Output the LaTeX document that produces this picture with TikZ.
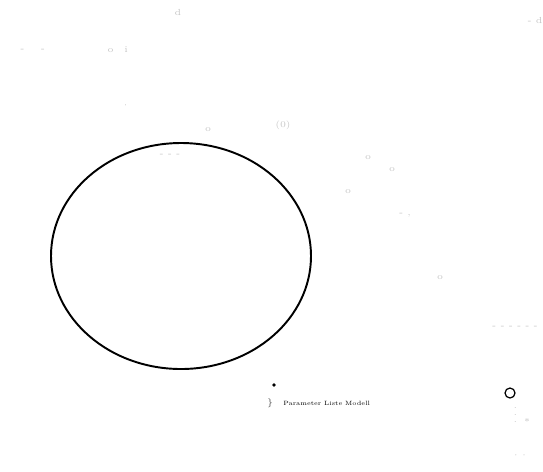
\documentclass[tikz,border=0pt]{standalone}
\begin{document}
\begin{tikzpicture}[x=0.02cm,y=-0.02cm,
    faint/.style={gray!45, font=\tiny, inner sep=0pt}]
        % Cornice
        \useasboundingbox (0,0) rectangle (543,471);
        % Ellisse
        \draw[line width=1.1pt] (181,256) ellipse (130 and 113);
        % Segni sparsi
        \node[faint] (s1) at (178,12) {d};
        \node[faint] (s2) at (535,20) {- d};
        \node[faint] (s3) at (30,50) {\, - \; \, -};
        \node[faint] (s4) at (115,50) {\, o \; i};
        \node[faint] (s5) at (125,105) {\,$\cdot$};
        \node[faint] (s6) at (208,130) {o};
        \node[faint] (s7) at (283,125) {(0)};
        \node[faint] (s8) at (170,155) {- - -};
        \node[faint] (s9) at (368,158) {o};
        \node[faint] (s10) at (392,170) {o};
        \node[faint] (s11) at (348,192) {o};
        \node[faint] (s12) at (405,215) {- ,};
        \node[faint] (s13) at (440,278) {o};
        \node[faint] (s14) at (515,327) {- - - - - -};
        % Legenda
        \fill (274,385) circle (1.8);
        \node[faint, black!70] (br) at (270,403) {$\}$};
        \node[font=\fontsize{3.5}{4}\selectfont, inner sep=0pt, anchor=west] (leg) at (283,403) {Parameter Liste Modell};
        \draw[line width=0.7pt] (510,393) circle (5);
        \node[faint] (s15) at (522,410) {$\vdots$ \;$\ast$};
        \node[faint] (s16) at (520,455) {$\cdot$ $\cdot$};
\end{tikzpicture}
\end{document}
